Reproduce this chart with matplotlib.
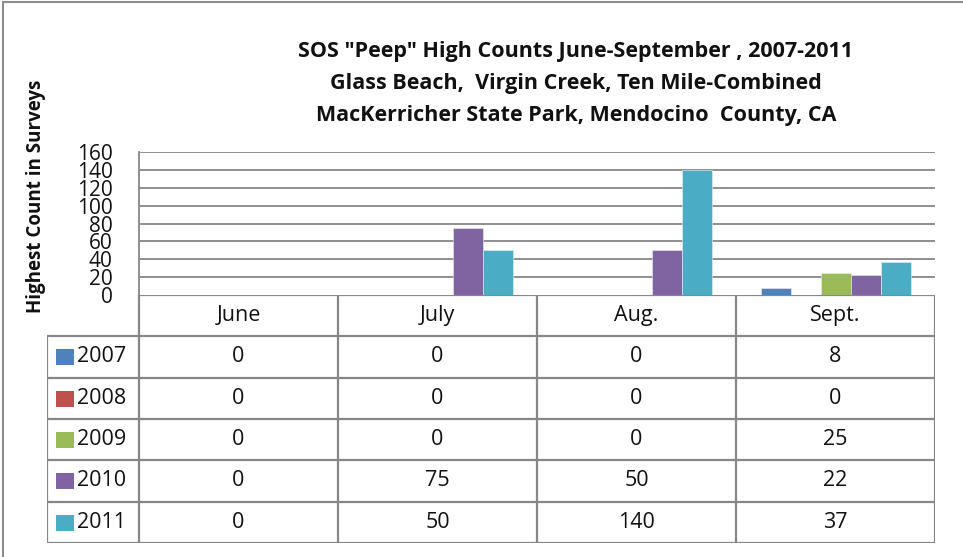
import matplotlib
matplotlib.use("Agg")
import matplotlib.pyplot as plt
from matplotlib.patches import Rectangle
import numpy as np

plt.rcParams['font.family'] = ['Open Sans', 'DejaVu Sans']

months = ["June", "July", "Aug.", "Sept."]
years = ["2007", "2008", "2009", "2010", "2011"]
v2007 = [0, 0, 0, 8]
v2008 = [0, 0, 0, 0]
v2009 = [0, 0, 0, 25]
v2010 = [0, 75, 50, 22]
v2011 = [0, 50, 140, 37]
series = [v2007, v2008, v2009, v2010, v2011]
colors = ["#4F81BD", "#C0504D", "#9BBB59", "#8064A2", "#4BACC6"]
yticks = [0, 20, 40, 60, 80, 100, 120, 140, 160]

title_lines = ['SOS "Peep" High Counts June-September , 2007-2011',
               'Glass Beach,  Virgin Creek, Ten Mile-Combined',
               'MacKerricher State Park, Mendocino  County, CA']
ylabel = "Highest Count in Surveys"

W, H = 963, 557
fig = plt.figure(figsize=(W / 100, H / 100), dpi=100)
GRID = "#878787"
TXT = "#111111"
FS = 15.5

def fx(px):
    return px / W

def fy(py):
    return 1 - py / H

# outer chart frame (only left and top visible)
fig.add_artist(Rectangle((fx(3), fy(700)), 2.0, fy(2) - fy(700), transform=fig.transFigure,
                         fill=False, edgecolor="#8c8c8c", linewidth=1.5))

# bar axes
L, R, T, B = 139, 935, 152, 295
ax = fig.add_axes([fx(L), fy(B), fx(R) - fx(L), fy(T) - fy(B)])
ncat = len(months)
x = np.arange(ncat)
bw = 30 / 199
nser = len(series)
for i, (vals, c) in enumerate(zip(series, colors)):
    offs = (i - (nser - 1) / 2) * bw
    ax.bar(x + offs, vals, width=bw, color=c, edgecolor="#e8f0f8", linewidth=0.4, zorder=3)
ax.set_xlim(-0.5, ncat - 0.5)
ax.set_ylim(0, 160)
ax.set_yticks(yticks)
ax.set_yticklabels([str(t) for t in yticks], fontsize=15, color=TXT)
ax.tick_params(axis='y', length=0, pad=19)
ax.set_xticks([])
for t in yticks[1:]:
    ax.axhline(t, color=GRID, linewidth=1.3, zorder=1)
for s in ["top", "right", "bottom"]:
    ax.spines[s].set_visible(False)
ax.spines["left"].set_color(GRID)
ax.spines["left"].set_linewidth(1.3)
ax.patch.set_alpha(0)

# table axes
TL, TT, TB = 47, 295, 543
tax = fig.add_axes([fx(TL), fy(TB), fx(R) - fx(TL), fy(TT) - fy(TB)])
lab_w = (L - TL) / ((R - L) / ncat)
tax.set_xlim(-0.5 - lab_w, ncat - 0.5)
nrows = len(years) + 1
tax.set_ylim(nrows, 0)
tax.axis("off")
lw = 1.6
tax.plot([-0.5, ncat - 0.5], [0, 0], color=GRID, lw=lw, solid_capstyle="projecting")
for r in range(1, nrows + 1):
    tax.plot([-0.5 - lab_w, ncat - 0.5], [r, r], color=GRID, lw=lw, solid_capstyle="projecting")
tax.plot([-0.5 - lab_w, -0.5 - lab_w], [1, nrows], color=GRID, lw=lw, solid_capstyle="projecting")
for c in range(ncat + 1):
    tax.plot([c - 0.5, c - 0.5], [0, nrows], color=GRID, lw=lw, solid_capstyle="projecting")
for c, m in enumerate(months):
    tax.text(c, 0.5, m, ha="center", va="center", fontsize=FS, color=TXT)
unit = (R - L) / ncat
for r, (yr, vals, col) in enumerate(zip(years, series, colors)):
    yc = r + 1.5
    tax.add_patch(Rectangle((-0.5 - lab_w + 9 / unit, yc - 0.5 + 13 / 41.3), 18 / unit, 16 / 41.3,
                            facecolor=col, edgecolor="none"))
    tax.text(-0.5 - lab_w + 30 / unit, yc, yr, ha="left", va="center", fontsize=FS, color=TXT)
    for c, v in enumerate(vals):
        tax.text(c, yc, str(v), ha="center", va="center", fontsize=FS, color=TXT)

for line, base in zip(title_lines, [57, 89, 121]):
    fig.text(fx(576), fy(base), line, ha="center", va="baseline", fontsize=15.5, fontweight="bold",
             color=TXT)
fig.text(fx(36), fy(196), ylabel, ha="center", va="center", rotation=90, fontsize=13.5,
         fontweight="bold", color=TXT)

fig.savefig("out.png", dpi=100)
